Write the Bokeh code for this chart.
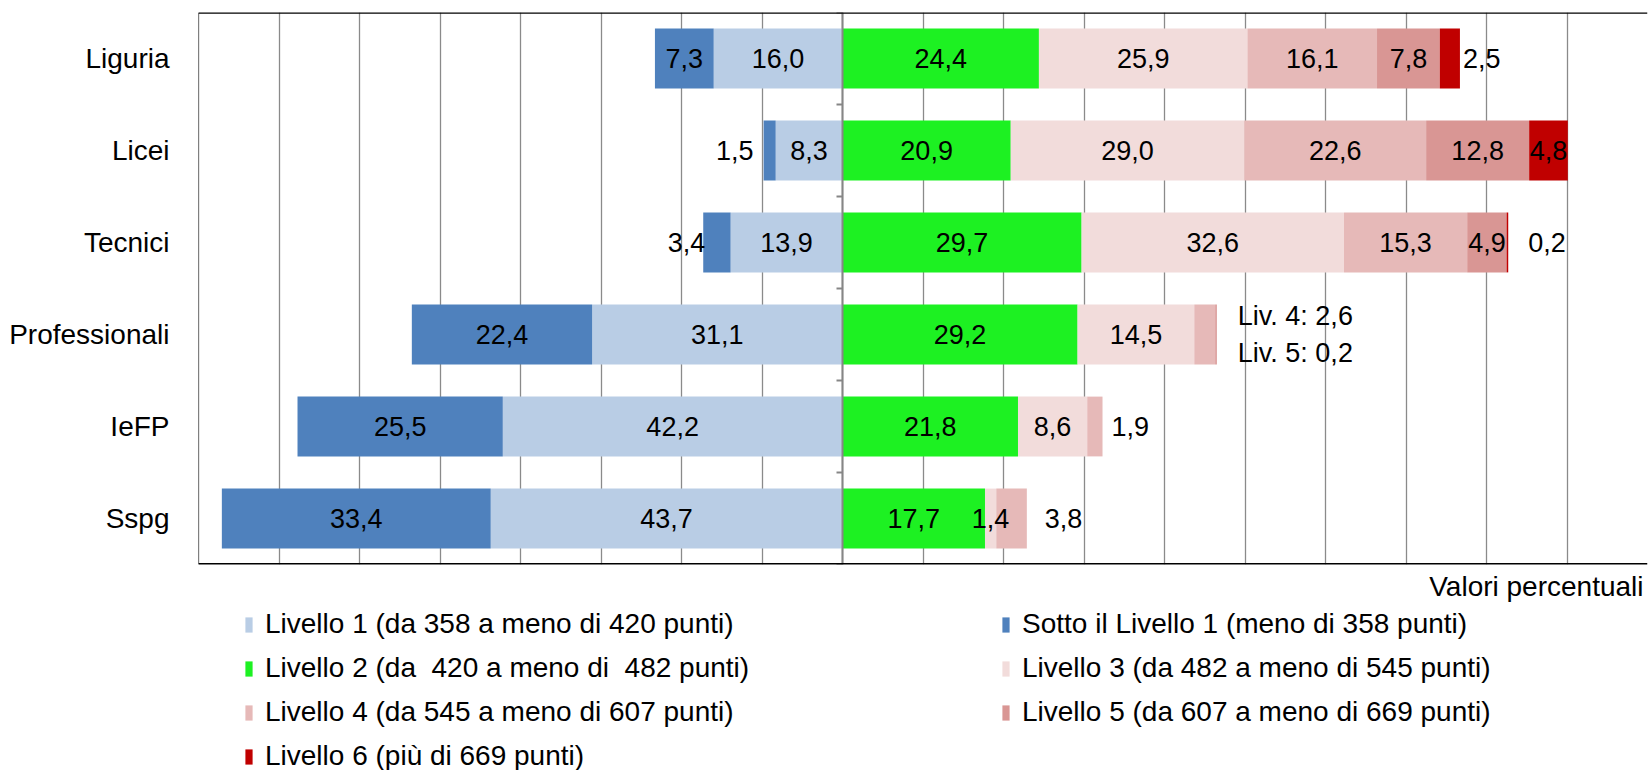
import numpy as np
from bokeh.plotting import figure
from bokeh.layouts import column
from bokeh.models import Range1d, FixedTicker, Span, Label, Legend, LegendItem
from bokeh.embed import file_html
from bokeh.resources import INLINE
from bokeh.core.properties import value

# ---------------- data ----------------
categories = ["Liguria", "Licei", "Tecnici", "Professionali", "IeFP", "Sspg"]
sotto = [7.3, 1.5, 3.4, 22.4, 25.5, 33.4]
liv1 = [16.0, 8.3, 13.9, 31.1, 42.2, 43.7]
liv2 = [24.4, 20.9, 29.7, 29.2, 21.8, 17.7]
liv3 = [25.9, 29.0, 32.6, 14.5, 8.6, 1.4]
liv4 = [16.1, 22.6, 15.3, 2.6, 1.9, 3.8]
liv5 = [7.8, 12.8, 4.9, 0.2, 0.0, 0.0]
liv6 = [2.5, 4.8, 0.2, 0.0, 0.0, 0.0]

legend_labels = {
    "sotto": "Sotto il Livello 1 (meno di 358 punti)",
    "liv1": "Livello 1 (da 358 a meno di 420 punti)",
    "liv2": "Livello 2 (da  420 a meno di  482 punti)",
    "liv3": "Livello 3 (da 482 a meno di 545 punti)",
    "liv4": "Livello 4 (da 545 a meno di 607 punti)",
    "liv5": "Livello 5 (da 607 a meno di 669 punti)",
    "liv6": "Livello 6 (più di 669 punti)",
}
axis_title = "Valori percentuali"

# ---------------- styles ----------------
colors = {
    "sotto": "#4F81BD", "liv1": "#B9CDE5", "liv2": "#1DF122",
    "liv3": "#F2DCDB", "liv4": "#E6B9B8", "liv5": "#D99694", "liv6": "#C00000",
}
FONT = "Liberation Sans"
FS_LAB = "28px"
FS_VAL = "27px"
GRID = "#8a8a8a"
W = 1650
H_CHART = 568
H_LEG = 202

# label placement exceptions: (category index, series) -> (mode, gap px)
placement = {
    (0, "liv6"): ("right", 3),
    (1, "sotto"): ("left", 10),
    (2, "sotto"): ("left", -2),
    (2, "liv6"): ("right", 20),
    (3, "liv4"): ("none", 0),
    (3, "liv5"): ("none", 0),
    (4, "liv4"): ("right", 9),
    (5, "liv4"): ("right", 18),
}

n = len(categories)
ys = np.arange(n)
order = ["liv1", "sotto", "liv2", "liv3", "liv4", "liv5", "liv6"]

p = figure(width=W, height=H_CHART,
           x_range=Range1d(-80, 100), y_range=Range1d(n - 0.5, -0.5),
           output_backend="svg", toolbar_location=None,
           min_border_left=198, min_border_right=3,
           min_border_top=12, min_border_bottom=H_CHART - 564)
p.outline_line_color = None
p.background_fill_color = "white"

# grid
p.xaxis.visible = False
p.xgrid.ticker = FixedTicker(ticks=list(range(-80, 101, 10)))
p.xgrid.grid_line_color = GRID
p.xgrid.grid_line_width = 1.3
p.ygrid.grid_line_color = None

# y axis (labels only)
p.yaxis.ticker = FixedTicker(ticks=list(range(n)))
p.yaxis.major_label_overrides = {i: c for i, c in enumerate(categories)}
p.yaxis.major_tick_line_color = None
p.yaxis.minor_tick_line_color = None
p.yaxis.axis_line_color = None
p.yaxis.major_label_standoff = 23
p.yaxis.major_label_text_font = FONT
p.yaxis.major_label_text_font_size = FS_LAB
p.yaxis.major_label_text_color = "black"

# segments
vals = {"sotto": np.array(sotto), "liv1": np.array(liv1), "liv2": np.array(liv2),
        "liv3": np.array(liv3), "liv4": np.array(liv4), "liv5": np.array(liv5),
        "liv6": np.array(liv6)}
segs = {}
segs["liv1"] = (-vals["liv1"], np.zeros(n))
segs["sotto"] = (-(vals["liv1"] + vals["sotto"]), -vals["liv1"])
cum = np.zeros(n)
for name in ["liv2", "liv3", "liv4", "liv5", "liv6"]:
    segs[name] = (cum.copy(), cum + vals[name])
    cum = cum + vals[name]

for name in order:
    l, r = segs[name]
    p.hbar(y=ys, left=l, right=r, height=0.65,
           fill_color=colors[name], line_color=None)

# borders, zero axis
p.add_layout(Span(location=0, dimension="height", line_color="#868686", line_width=2))
p.ray(x=np.zeros(n + 1), y=np.arange(n + 1) - 0.5, length=6, length_units="screen",
      angle=np.pi, line_color="#868686", line_width=2)
p.add_layout(Span(location=p.y_range.end, dimension="width", line_color="black", line_width=2.5))
p.add_layout(Span(location=p.y_range.start, dimension="width", line_color="black", line_width=3))
p.add_layout(Span(location=p.x_range.start, dimension="height", line_color="black", line_width=1.2))

# value labels
def fmt(v):
    return f"{v:.1f}".replace(".", ",")

groups = {"center": ([], [], [], []), "right": ([], [], [], []), "left": ([], [], [], [])}
for name in ["sotto", "liv1", "liv2", "liv3", "liv4", "liv5", "liv6"]:
    l, r = segs[name]
    for i in range(n):
        v = vals[name][i]
        if v <= 0:
            continue
        mode, gap = placement.get((i, name), ("center", 0))
        if mode == "none":
            continue
        if mode == "center":
            x, off = (l[i] + r[i]) / 2, 0
        elif mode == "right":
            x, off = r[i], gap
        else:
            x, off = l[i], -gap
        g = groups[mode]
        g[0].append(x); g[1].append(ys[i]); g[2].append(fmt(v)); g[3].append(off)

for mode, align in [("center", "center"), ("right", "left"), ("left", "right")]:
    xs_, ys_, ts_, offs = groups[mode]
    p.text(x=xs_, y=ys_, text=ts_, x_offset=offs, text_align=align,
           text_baseline="middle", text_font=value(FONT), text_font_size=FS_VAL,
           text_color="black")

# Professionali annotation for levels 4 and 5
ip = categories.index("Professionali")
p.text(x=[segs["liv6"][1][ip]], y=[ys[ip]],
       text=[f"Liv. 4: {fmt(liv4[ip])}\nLiv. 5: {fmt(liv5[ip])}"],
       x_offset=21, text_align="left", text_baseline="middle",
       text_line_height=1.25, text_font=value(FONT), text_font_size=FS_VAL,
       text_color="black")

# ---------------- legend strip (shares the x scale of the chart) ----------------
q = figure(width=W, height=H_LEG, x_range=p.x_range, y_range=Range1d(0, H_LEG),
           output_backend="svg", toolbar_location=None,
           x_axis_location=None, y_axis_location=None,
           min_border_left=198, min_border_right=3, min_border_top=0, min_border_bottom=0)
q.outline_line_color = None
q.xgrid.visible = False
q.ygrid.visible = False

# hidden copies of the bars, used only as legend swatches
swatches = {}
for name in order:
    l, r = segs[name]
    swatches[name] = q.hbar(y=ys, left=l, right=r, height=0.65,
                            fill_color=colors[name], line_color=None, visible=False)

q.add_layout(Label(x=p.x_range.end, y=H_LEG - 18, x_offset=-4, text=axis_title,
                   text_align="right", text_baseline="middle",
                   text_font=FONT, text_font_size=FS_LAB, text_color="black"))

def make_legend(names, loc):
    lg = Legend(items=[LegendItem(label=legend_labels[k], renderers=[swatches[k]]) for k in names],
                location=loc, orientation="vertical")
    lg.border_line_color = None
    lg.background_fill_alpha = 0
    lg.padding = 0
    lg.margin = 0
    lg.spacing = 0
    lg.label_height = 44
    lg.glyph_height = 19
    lg.glyph_width = 9
    lg.label_standoff = 12
    lg.label_text_font = FONT
    lg.label_text_font_size = FS_LAB
    lg.label_text_color = "black"
    lg.click_policy = "none"
    return lg

q.add_layout(make_legend(["liv1", "liv2", "liv4", "liv6"], (46, -8)))
q.add_layout(make_legend(["sotto", "liv3", "liv5"], (803, 36)))

open("out.html", "w").write(file_html(column(p, q), INLINE))
